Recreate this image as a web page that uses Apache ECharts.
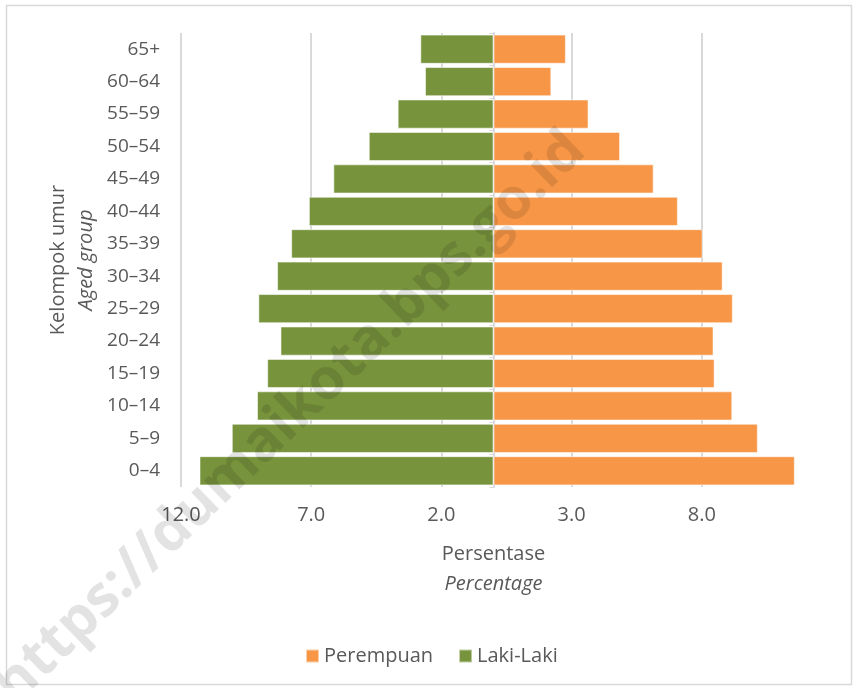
<!DOCTYPE html>
<html>
<head>
<meta charset="utf-8">
<script src="https://cdn.jsdelivr.net/npm/echarts@6/dist/echarts.min.js"></script>
<style>
html,body{margin:0;padding:0;background:#fff;}
#chart{width:857px;height:688px;}
</style>
</head>
<body>
<div id="chart"></div>
<script>
// Categories, bottom to top
const ageGroups = ['0–4','5–9','10–14','15–19','20–24','25–29','30–34','35–39','40–44','45–49','50–54','55–59','60–64','65+'];
// Percentages
const perempuan = [11.57, 10.15, 9.17, 8.49, 8.45, 9.19, 8.80, 8.03, 7.08, 6.15, 4.86, 3.65, 2.22, 2.78];
const lakiLaki  = [11.29, 10.05, 9.08, 8.69, 8.18, 9.03, 8.31, 7.77, 7.09, 6.15, 4.79, 3.68, 2.63, 2.81];
const axisMin = -12, axisMax = 12, axisStep = 5;

const textColor = '#595959';
const font = 'Open Sans';

const chart = echarts.init(document.getElementById('chart'), null, {renderer: 'canvas'});
chart.setOption({
  backgroundColor: '#fff',
  animation: false,
  textStyle: {fontFamily: font, color: textColor},
  grid: {left: 181, right: 51, top: 33, bottom: 201, containLabel: false},
  legend: {
    data: ['Perempuan', 'Laki-Laki'],
    left: 300, top: 641,
    icon: 'rect', itemWidth: 13, itemHeight: 13, itemGap: 25,
    textStyle: {fontFamily: font, fontSize: 20, color: textColor}
  },
  xAxis: {
    type: 'value', min: axisMin, max: axisMax, interval: axisStep,
    axisLine: {show: false}, axisTick: {show: false},
    splitLine: {show: true, showMaxLine: false, lineStyle: {color: '#d9d9d9', width: 2}},
    axisLabel: {
      fontFamily: font, fontSize: 20, color: textColor, margin: 18,
      showMaxLabel: false,
      formatter: v => Math.abs(v).toFixed(1)
    },
    name: '{a|Persentase}\n{b|Percentage}',
    nameLocation: 'middle', nameGap: 52,
    nameTextStyle: {
      rich: {
        a: {fontFamily: font, fontSize: 20, color: textColor, lineHeight: 30},
        b: {fontFamily: font, fontSize: 20, fontStyle: 'italic', color: textColor, lineHeight: 30}
      }
    }
  },
  yAxis: [
    {
      type: 'category', data: ageGroups,
      axisLine: {show: true, onZero: true, lineStyle: {color: '#d9d9d9', width: 2}},
      axisTick: {show: true, length: 4, inside: false, lineStyle: {color: '#d9d9d9'}},
      axisLabel: {show: false},
      splitLine: {show: false}
    },
    {
      type: 'category', data: ageGroups, position: 'left',
      axisLine: {show: false, onZero: false}, axisTick: {show: false},
      axisLabel: {fontFamily: font, fontSize: 19, color: textColor, margin: 21},
      name: '{a|Kelompok umur}\n{b|Aged group}',
      nameLocation: 'middle', nameRotate: 90, nameGap: 81,
      nameTextStyle: {
        rich: {
          a: {fontFamily: font, fontSize: 20, color: textColor, lineHeight: 28},
          b: {fontFamily: font, fontSize: 20, fontStyle: 'italic', color: textColor, lineHeight: 28}
        }
      }
    }
  ],
  series: [
    {
      name: 'Perempuan', type: 'bar', yAxisIndex: 0,
      data: perempuan,
      barCategoryGap: '10%', barGap: '-100%',
      itemStyle: {color: '#F79646', borderColor: 'rgba(255,255,255,0.55)', borderWidth: 1}
    },
    {
      name: 'Laki-Laki', type: 'bar', yAxisIndex: 0,
      data: lakiLaki.map(v => -v),
      barCategoryGap: '10%', barGap: '-100%',
      itemStyle: {color: '#77933C', borderColor: 'rgba(255,255,255,0.55)', borderWidth: 1}
    }
  ],
  graphic: [
    {
      type: 'rect', silent: true, z: -10,
      shape: {x: 6.5, y: 5.5, width: 845, height: 679},
      style: {fill: 'none', stroke: '#d9d9d9', lineWidth: 1.5}
    },
    {
      type: 'text', silent: true, z: 100,
      x: 290, y: 418, rotation: Math.PI * 44 / 180,
      style: {
        text: 'https://dumaikota.bps.go.id',
        font: 'bold 57px "Open Sans"',
        fill: 'rgba(0,0,0,0.11)',
        align: 'center', verticalAlign: 'middle'
      }
    }
  ]
});
</script>
</body>
</html>
